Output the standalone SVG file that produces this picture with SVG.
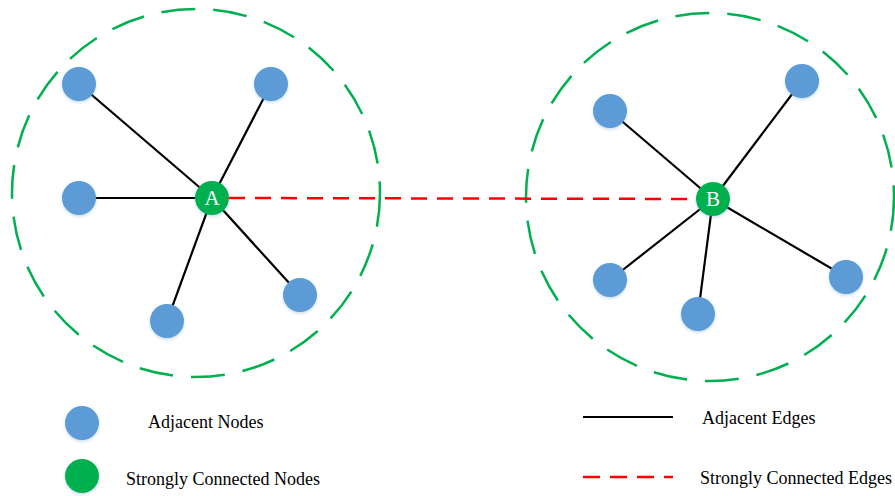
<svg xmlns="http://www.w3.org/2000/svg" width="895" height="496" viewBox="0 0 895 496">
<style>
.adj{fill:#5B9BD5}
.scn{fill:#00B050}
.edge{stroke:#000;stroke-width:2.2;fill:none}
.strong{stroke:#FF0000;stroke-width:2.5;stroke-dasharray:16 10;fill:none}
.ring{stroke:#00B050;stroke-width:2.5;stroke-dasharray:34 18;fill:none}
.lbl{font-family:"Liberation Serif","Times New Roman",serif;font-size:21px;fill:#fff;text-anchor:middle}
.leg{font-family:"Liberation Serif","Times New Roman",serif;font-size:18px;fill:#000}
</style>
<defs>
<filter id="sh" x="-30%" y="-30%" width="160%" height="160%">
<feDropShadow dx="0" dy="1.5" stdDeviation="1.5" flood-color="#5B9BD5" flood-opacity="0.35"/>
</filter>
</defs>
<g id="clusters">
<circle class="ring" cx="196" cy="193" r="184"/>
<circle class="ring" cx="710" cy="197" r="184"/>
</g>
<g id="connectors">
<line class="edge" x1="212" y1="198" x2="79" y2="84"/>
<line class="edge" x1="212" y1="198" x2="271" y2="84"/>
<line class="edge" x1="212" y1="198" x2="79" y2="198"/>
<line class="edge" x1="212" y1="198" x2="167" y2="321"/>
<line class="edge" x1="212" y1="198" x2="300" y2="295"/>
<line class="edge" x1="713" y1="199" x2="610" y2="111"/>
<line class="edge" x1="713" y1="199" x2="802" y2="81"/>
<line class="edge" x1="713" y1="199" x2="610" y2="280"/>
<line class="edge" x1="713" y1="199" x2="698" y2="314"/>
<line class="edge" x1="713" y1="199" x2="846" y2="277"/>
<line class="strong" x1="229" y1="198" x2="697" y2="199"/>
</g>
<g id="node-a1"><circle class="adj" filter="url(#sh)" cx="79" cy="84" r="17"/></g>
<g id="node-a2"><circle class="adj" filter="url(#sh)" cx="271" cy="84" r="17"/></g>
<g id="node-a3"><circle class="adj" filter="url(#sh)" cx="79" cy="198" r="17"/></g>
<g id="node-a4"><circle class="adj" filter="url(#sh)" cx="167" cy="321" r="17"/></g>
<g id="node-a5"><circle class="adj" filter="url(#sh)" cx="300" cy="295" r="17"/></g>
<g id="node-A"><circle class="scn" filter="url(#sh)" cx="212" cy="198" r="17"/><text class="lbl" x="212" y="205">A</text></g>
<g id="node-b1"><circle class="adj" filter="url(#sh)" cx="610" cy="111" r="17"/></g>
<g id="node-b2"><circle class="adj" filter="url(#sh)" cx="802" cy="81" r="17"/></g>
<g id="node-b3"><circle class="adj" filter="url(#sh)" cx="610" cy="280" r="17"/></g>
<g id="node-b4"><circle class="adj" filter="url(#sh)" cx="698" cy="314" r="17"/></g>
<g id="node-b5"><circle class="adj" filter="url(#sh)" cx="846" cy="277" r="17"/></g>
<g id="node-B"><circle class="scn" filter="url(#sh)" cx="713" cy="199" r="17"/><text class="lbl" x="713" y="206">B</text></g>
<g id="legend">
<circle class="adj" filter="url(#sh)" cx="82" cy="423" r="17"/>
<text class="leg" x="148" y="428">Adjacent Nodes</text>
<circle class="scn" filter="url(#sh)" cx="82" cy="476" r="17"/>
<text class="leg" x="126" y="485">Strongly Connected Nodes</text>
<line class="edge" x1="583" y1="417" x2="673" y2="417"/>
<text class="leg" x="702" y="424">Adjacent Edges</text>
<line class="strong" x1="583" y1="477" x2="673" y2="477" style="stroke-dasharray:17 10"/>
<text class="leg" x="700" y="484">Strongly Connected Edges</text>
</g>
</svg>
